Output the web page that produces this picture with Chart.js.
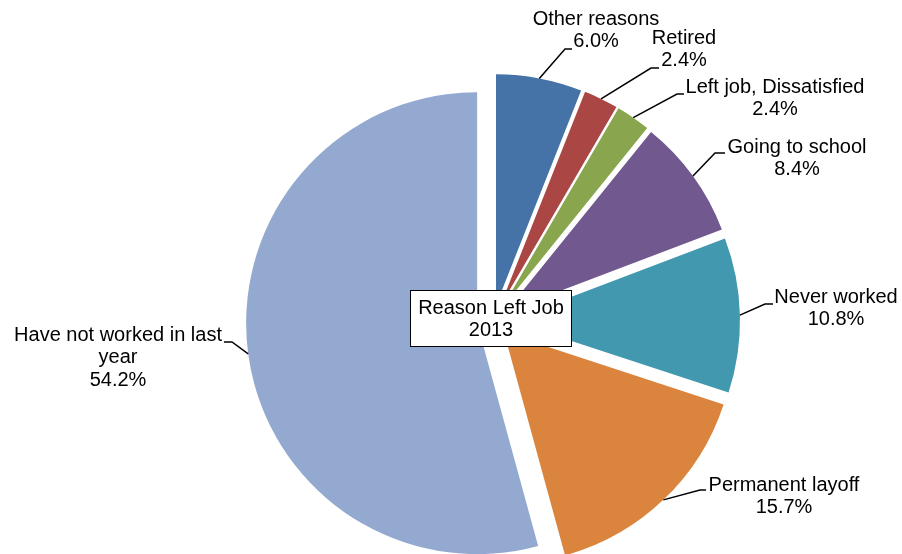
<!DOCTYPE html>
<html>
<head>
<meta charset="utf-8">
<script src="https://cdn.jsdelivr.net/npm/chart.js@4.4.1/dist/chart.umd.min.js"></script>
<style>
  html, body { margin: 0; padding: 0; background: #fff; }
  #wrap { width: 902px; height: 554px; position: relative; }
</style>
</head>
<body>
<div id="wrap"><canvas id="chartReasons"></canvas></div>
<script>
// ── Data ────────────────────────────────────────────────
const CATEGORIES = [
  'Other reasons',
  'Retired',
  'Left job, Dissatisfied',
  'Going to school',
  'Never worked',
  'Permanent layoff',
  ['Have not worked in last', 'year'],
];
const SHARES = [6.0, 2.4, 2.4, 8.4, 10.8, 15.7, 54.2];
const TITLE_LINES = ['Reason Left Job', '2013'];

const SLICE_COLORS = ['#4572A7', '#AA4643', '#89A54E', '#71588F', '#4198AF', '#DB843D', '#93A9CF'];

// label block centre (x, first line y) and elbow of the leader line
const LABEL_LAYOUT = [
  { x: 596, y: 19,  elbow: [565, 49],  end: 572 },
  { x: 684, y: 38,  elbow: [651, 68],  end: 659 },
  { x: 775, y: 87,  elbow: [677, 94],  end: 684 },
  { x: 797, y: 147, elbow: [715, 153], end: 725 },
  { x: 836, y: 297, elbow: [765, 304], end: 773 },
  { x: 784, y: 485, elbow: [700, 490], end: 706 },
  { x: 118, y: 335, elbow: [232, 342], end: 224 },
];

const FONT = "20px 'Liberation Sans', Arial, sans-serif";
const LINE_H = 22.5;
const EXPLODE = 16; // every slice is pulled this many px out along its bisector

// ── Exploded slices: draw each arc shifted along its mid angle ──
const explodeSlices = {
  id: 'explodeSlices',
  beforeDatasetDraw(chart, args) {
    const ctx = chart.ctx;
    args.meta.data.forEach((arc) => {
      const { startAngle, endAngle } = arc.getProps(['startAngle', 'endAngle'], true);
      const mid = (startAngle + endAngle) / 2;
      ctx.save();
      ctx.translate(Math.cos(mid) * EXPLODE, Math.sin(mid) * EXPLODE);
      arc.draw(ctx);
      ctx.restore();
    });
    return false;
  },
};

// ── Labels, leader lines and centre title box ───────────
const pieLabels = {
  id: 'pieLabels',
  afterDatasetsDraw(chart) {
    const ctx = chart.ctx;
    const meta = chart.getDatasetMeta(0);
    ctx.save();
    ctx.font = FONT;
    ctx.textAlign = 'center';
    ctx.textBaseline = 'middle';
    ctx.fillStyle = '#000';
    ctx.strokeStyle = '#000';
    ctx.lineWidth = 1.5;

    meta.data.forEach((arc, i) => {
      const p = arc.getProps(['x', 'y', 'startAngle', 'endAngle', 'outerRadius'], true);
      const mid = (p.startAngle + p.endAngle) / 2;
      const sx = p.x + Math.cos(mid) * (p.outerRadius + EXPLODE);
      const sy = p.y + Math.sin(mid) * (p.outerRadius + EXPLODE);
      const L = LABEL_LAYOUT[i];

      ctx.beginPath();
      ctx.moveTo(sx, sy);
      ctx.lineTo(L.elbow[0], L.elbow[1]);
      ctx.lineTo(L.end, L.elbow[1]);
      ctx.stroke();

      const name = CATEGORIES[i];
      const lines = (Array.isArray(name) ? name : [name]).concat(SHARES[i].toFixed(1) + '%');
      lines.forEach((t, k) => ctx.fillText(t, L.x, L.y + k * LINE_H));
    });

    // title box in the middle of the pie
    const bx = 410, by = 290, bw = 162, bh = 57;
    ctx.fillStyle = '#fff';
    ctx.fillRect(bx, by, bw, bh);
    ctx.lineWidth = 1;
    ctx.strokeRect(bx + 0.5, by + 0.5, bw - 1, bh - 1);
    ctx.fillStyle = '#000';
    TITLE_LINES.forEach((t, k) => ctx.fillText(t, bx + bw / 2, 308 + k * LINE_H));
    ctx.restore();
  },
};

new Chart(document.getElementById('chartReasons').getContext('2d'), {
  type: 'pie',
  data: {
    labels: CATEGORIES,
    datasets: [{
      data: SHARES,
      backgroundColor: SLICE_COLORS,
      borderWidth: 0,
      offset: 0,
      hoverOffset: 0,
      radius: 231,
      clip: false,
    }],
  },
  options: {
    responsive: true,
    maintainAspectRatio: false,
    animation: false,
    events: [],
    layout: { padding: { left: 84, right: 0, top: 88, bottom: 0 } },
    plugins: {
      legend: { display: false },
      tooltip: { enabled: false },
    },
  },
  plugins: [explodeSlices, pieLabels],
});
</script>
</body>
</html>
